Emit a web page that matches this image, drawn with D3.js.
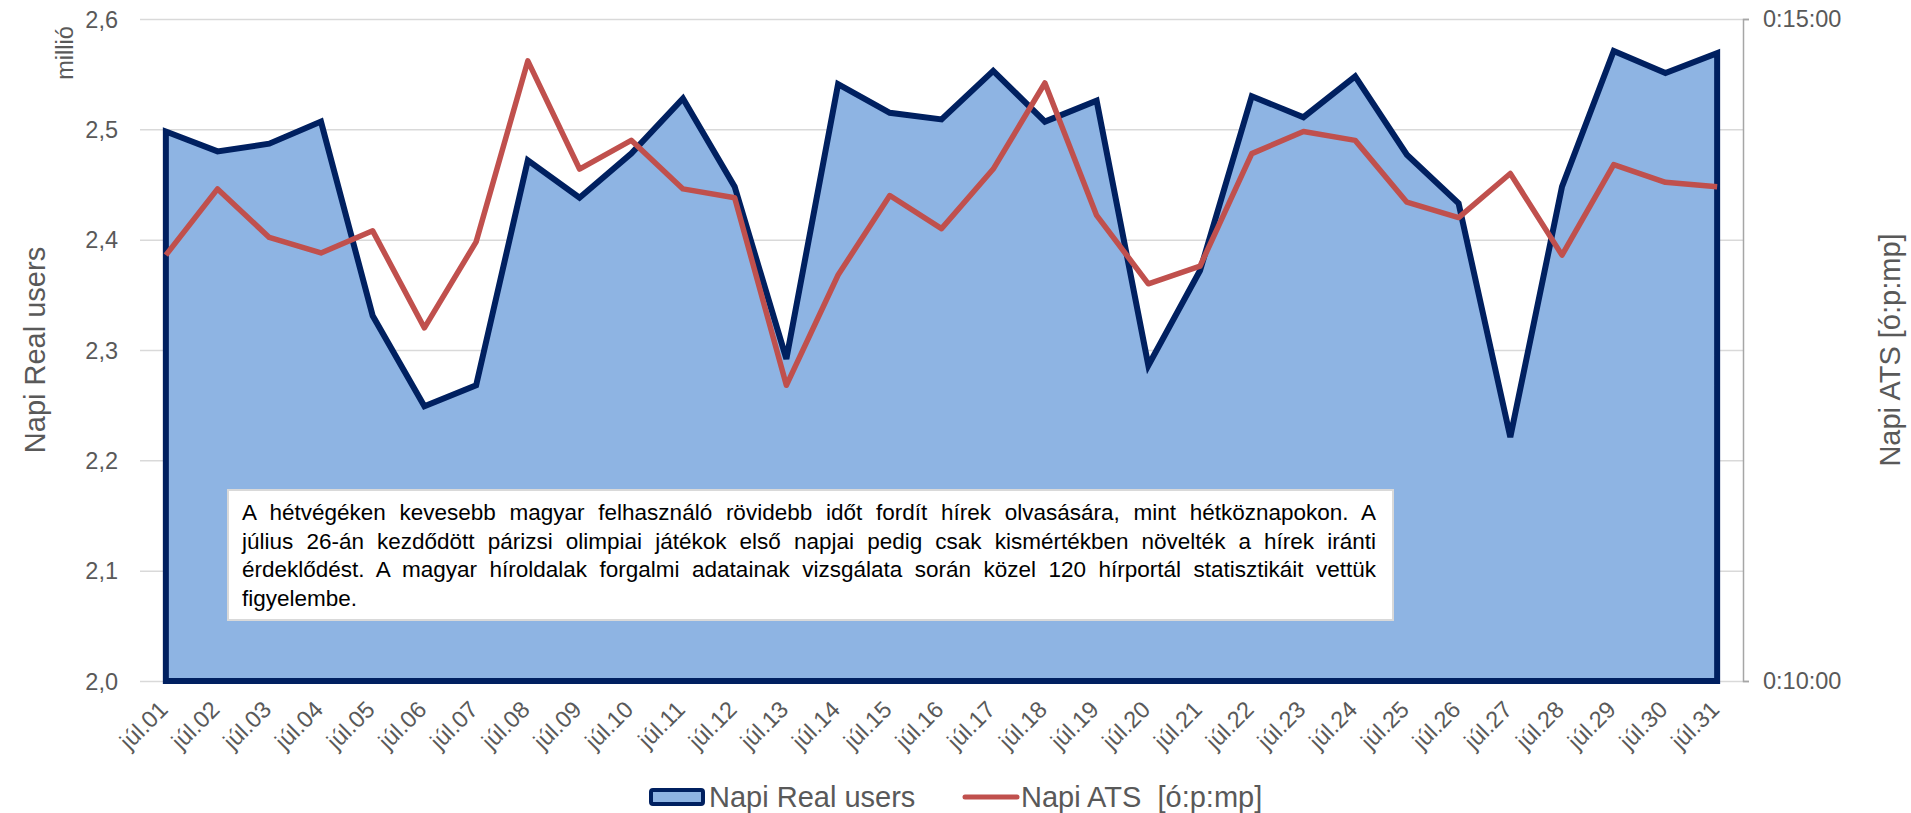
<!DOCTYPE html>
<meta charset="utf-8">
<html>
<head>
<title>Napi Real users / Napi ATS</title>
<script src="https://cdn.jsdelivr.net/npm/d3@7"></script>
<style>
body {
	margin: 0;
	background: white;
}
svg text {
	font-family: "Liberation Sans", Arial, sans-serif;
}
.tick text {
	fill: #595959;
	font-size: 23.5px;
}
.grid line {
	stroke: #d9d9d9;
	stroke-width: 1.5px;
}
</style>
</head>
<body>
<svg id="chart"></svg>
<script>
'use strict'

// categories (x axis)
const days = ['júl.01', 'júl.02', 'júl.03', 'júl.04', 'júl.05', 'júl.06', 'júl.07', 'júl.08',
	'júl.09', 'júl.10', 'júl.11', 'júl.12', 'júl.13', 'júl.14', 'júl.15', 'júl.16', 'júl.17',
	'júl.18', 'júl.19', 'júl.20', 'júl.21', 'júl.22', 'júl.23', 'júl.24', 'júl.25', 'júl.26',
	'júl.27', 'júl.28', 'júl.29', 'júl.30', 'júl.31']

// daily real users, millions (left axis)
const realUsers = [2.498, 2.480, 2.487, 2.507, 2.331, 2.249, 2.268, 2.472, 2.438, 2.478,
	2.528, 2.448, 2.292, 2.541, 2.515, 2.509, 2.553, 2.507, 2.526, 2.286, 2.372, 2.530,
	2.511, 2.548, 2.477, 2.433, 2.221, 2.448, 2.571, 2.551, 2.569]

// daily average time spent, seconds (right axis)
const atsSeconds = [793, 823, 801, 794, 804, 760, 799, 881, 832, 845, 823, 819, 734, 784,
	820, 805, 832, 871, 811, 780, 788, 839, 849, 845, 817, 810, 830, 793, 834, 826, 824]

const leftTicks = [2.0, 2.1, 2.2, 2.3, 2.4, 2.5, 2.6]
const rightTicks = [600, 900]

const noteLines = [
	'A hétvégéken kevesebb magyar felhasználó rövidebb időt fordít hírek olvasására, mint hétköznapokon. A',
	'július 26-án kezdődött párizsi olimpiai játékok első napjai pedig csak kismértékben növelték a hírek iránti',
	'érdeklődést. A magyar híroldalak forgalmi adatainak vizsgálata során közel 120 hírportál statisztikáit vettük',
	'figyelembe.'
]

const width = 1911, height = 813
const plotLeft = 140, plotRight = 1743, plotTop = 19, plotBottom = 681

const svg = d3.select('#chart').attr('width', width).attr('height', height)

const x = d3.scalePoint().domain(days).range([plotLeft, plotRight]).padding(0.5)
const yL = d3.scaleLinear().domain([2.0, 2.6]).range([plotBottom, plotTop])
const yR = d3.scaleLinear().domain([600, 900]).range([plotBottom, plotTop])

const fmtComma = d => d3.format('.1f')(d).replace('.', ',')
const fmtTime = s => {
	const h = Math.floor(s / 3600), m = Math.floor((s % 3600) / 60), sec = s % 60
	return h + ':' + String(m).padStart(2, '0') + ':' + String(sec).padStart(2, '0')
}

// left axis + gridlines
const gLeft = svg.append('g')
	.attr('class', 'grid')
	.attr('transform', `translate(${plotLeft},0)`)
	.call(d3.axisLeft(yL).tickValues(leftTicks).tickFormat(fmtComma)
		.tickSize(-(plotRight - plotLeft)).tickPadding(22))
gLeft.select('.domain').remove()
gLeft.selectAll('text').attr('dy', '0.35em')

// area (real users)
const area = d3.area()
	.x((d, i) => x(days[i]))
	.y0(yL(2.0))
	.y1(d => yL(d))
svg.append('path')
	.datum(realUsers)
	.attr('d', area)
	.attr('fill', '#8eb4e3')
	.attr('stroke', '#002060')
	.attr('stroke-width', 6)
	.attr('stroke-linejoin', 'miter')

// line (ATS)
const line = d3.line()
	.x((d, i) => x(days[i]))
	.y(d => yR(d))
svg.append('path')
	.datum(atsSeconds)
	.attr('d', line)
	.attr('fill', 'none')
	.attr('stroke', '#c0504d')
	.attr('stroke-width', 5.5)
	.attr('stroke-linejoin', 'round')

// right axis
const gRight = svg.append('g')
	.attr('transform', `translate(${plotRight},0)`)
	.call(d3.axisRight(yR).tickValues(rightTicks).tickFormat(fmtTime)
		.tickSize(6).tickPadding(14))
gRight.select('.domain').attr('stroke', '#a6a6a6').attr('stroke-width', 1.5)
gRight.selectAll('.tick line').attr('stroke', '#a6a6a6').attr('stroke-width', 1.5)

// x axis labels
const gBottom = svg.append('g')
	.attr('transform', `translate(0,${plotBottom})`)
	.call(d3.axisBottom(x).tickSize(0))
gBottom.select('.domain').remove()
gBottom.selectAll('text')
	.attr('x', 0).attr('y', 0).attr('dy', null)
	.attr('transform', 'translate(3,30) rotate(-45)')
	.style('text-anchor', 'end')

// axis titles
svg.append('text')
	.attr('transform', `translate(35,${(plotTop + plotBottom) / 2}) rotate(-90)`)
	.attr('text-anchor', 'middle')
	.attr('dominant-baseline', 'central')
	.attr('fill', '#595959')
	.style('font-size', '29px')
	.text('Napi Real users')

svg.append('text')
	.attr('transform', 'translate(65,53) rotate(-90)')
	.attr('text-anchor', 'middle')
	.attr('dominant-baseline', 'central')
	.attr('fill', '#595959')
	.style('font-size', '23.5px')
	.text('millió')

svg.append('text')
	.attr('transform', `translate(1890,${(plotTop + plotBottom) / 2}) rotate(-90)`)
	.attr('text-anchor', 'middle')
	.attr('dominant-baseline', 'central')
	.attr('fill', '#595959')
	.style('font-size', '29px')
	.text('Napi ATS [ó:p:mp]')

// note box
const box = {x: 228, y: 490, w: 1165, h: 130}
svg.append('rect')
	.attr('x', box.x).attr('y', box.y)
	.attr('width', box.w).attr('height', box.h)
	.attr('fill', 'white')
	.attr('stroke', '#d9d9d9')
	.attr('stroke-width', 2)

const textLeft = 242, textWidth = 1134
const note = svg.append('g')
note.selectAll('text')
	.data(noteLines)
	.enter().append('text')
	.attr('x', textLeft)
	.attr('y', (d, i) => 520 + i * 28.7)
	.attr('fill', 'black')
	.style('font-size', '22.5px')
	.text(d => d)
	.each(function(d, i) {
		// justify every line but the last by widening the spaces
		if (i === noteLines.length - 1) return
		const natural = this.getComputedTextLength()
		const spaces = (d.match(/ /g) || []).length
		if (spaces) d3.select(this).attr('word-spacing', (textWidth - natural) / spaces)
	})

// legend
const legendY = 797
svg.append('rect')
	.attr('x', 651).attr('y', legendY - 7)
	.attr('width', 52).attr('height', 14)
	.attr('rx', 2)
	.attr('fill', '#8eb4e3')
	.attr('stroke', '#002060')
	.attr('stroke-width', 4)
svg.append('text')
	.attr('x', 709).attr('y', legendY)
	.attr('dominant-baseline', 'central')
	.attr('fill', '#595959')
	.style('font-size', '29px')
	.text('Napi Real users')

svg.append('line')
	.attr('x1', 965).attr('x2', 1017)
	.attr('y1', legendY).attr('y2', legendY)
	.attr('stroke', '#c0504d')
	.attr('stroke-width', 5)
	.attr('stroke-linecap', 'round')
svg.append('text')
	.attr('x', 1021).attr('y', legendY)
	.attr('dominant-baseline', 'central')
	.attr('fill', '#595959')
	.style('font-size', '29px')
	.style('white-space', 'pre')
	.text('Napi ATS  [ó:p:mp]')
</script>
</body>
</html>
